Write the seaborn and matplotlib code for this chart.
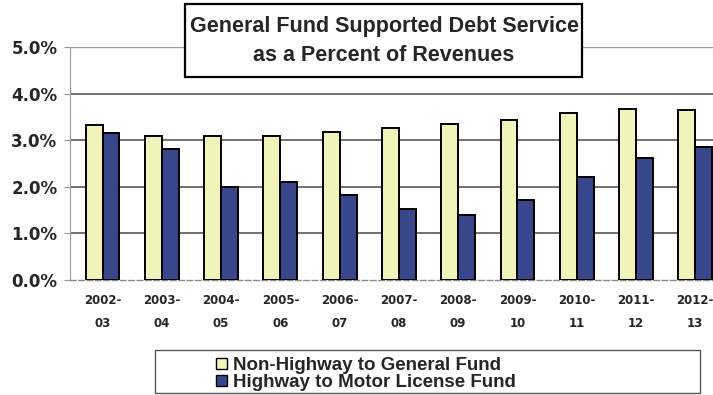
import matplotlib
matplotlib.use("Agg")
import matplotlib.pyplot as plt
from matplotlib.patches import Rectangle
import seaborn as sns
import pandas as pd

years = ["2002-\n03", "2003-\n04", "2004-\n05", "2005-\n06", "2006-\n07", "2007-\n08",
         "2008-\n09", "2009-\n10", "2010-\n11", "2011-\n12", "2012-\n13"]
non_highway = [3.32, 3.09, 3.09, 3.08, 3.18, 3.26, 3.34, 3.43, 3.59, 3.67, 3.64]
highway = [3.15, 2.82, 2.00, 2.10, 1.82, 1.52, 1.39, 1.71, 2.20, 2.62, 2.85]
series_names = ["Non-Highway to General Fund", "Highway to Motor License Fund"]
y_ticks = [0, 1, 2, 3, 4, 5]
colors = ["#F1F3B8", "#38478C"]

df = pd.DataFrame({
    "year": years * 2,
    "pct": non_highway + highway,
    "series": [series_names[0]] * len(years) + [series_names[1]] * len(years),
})

sns.set_style("white")
plt.rcParams["font.family"] = ["Liberation Sans", "DejaVu Sans"]

W, H = 713, 395
fig = plt.figure(figsize=(W / 100, H / 100), dpi=100)
ax = fig.add_axes([70 / W, 1 - 280 / H, 643 / W, 233 / H])

sns.barplot(data=df, x="year", y="pct", hue="series", palette=colors,
            saturation=1, width=0.57, gap=0, edgecolor="black", linewidth=1.4,
            legend=False, ax=ax, zorder=3)

ax.set_xlim(-0.55, 10.3)
ax.set_ylim(0, 5)
ax.set_yticks(y_ticks)
ax.set_yticklabels([f"{v:.1f}%" for v in y_ticks], fontsize=12,
                   fontweight="bold", family="DejaVu Sans")
ax.set_xticks(range(len(years)))
ax.set_xticklabels(years, fontsize=8.5, fontweight="bold", family="DejaVu Sans",
                   linespacing=2.0)
ax.set_xlabel("")
ax.set_ylabel("")

for v in y_ticks[1:-1]:
    ax.axhline(v, color="#4a4a4a", lw=1.1, zorder=1)
ax.axhline(5, color="#9a9a9a", lw=1.0, zorder=1)

for s in ["top", "right"]:
    ax.spines[s].set_visible(False)
ax.spines["left"].set_color("#9a9a9a")
ax.spines["left"].set_linewidth(0.8)
ax.spines["bottom"].set_color("#8a8a8a")
ax.spines["bottom"].set_linewidth(1.0)
ax.spines["bottom"].set_linestyle((0, (4, 2)))
ax.tick_params(axis="y", length=4, color="#9a9a9a", pad=5, left=True)
ax.tick_params(axis="x", length=0, pad=10)

# title box
fig.patches.append(Rectangle((185 / W, 1 - 77 / H), (582 - 185) / W, 73 / H,
                             transform=fig.transFigure, facecolor="white",
                             edgecolor="black", linewidth=1.6, zorder=5))
fig.text(384 / W, 1 - 41 / H,
         "General Fund Supported Debt Service\nas a Percent of Revenues",
         ha="center", va="center", fontsize=15.5, fontweight="bold",
         linespacing=1.45, zorder=6)

# legend box
fig.patches.append(Rectangle((155 / W, 1 - 393 / H), (700 - 155) / W, 43 / H,
                             transform=fig.transFigure, facecolor="white",
                             edgecolor="#555555", linewidth=1.0, zorder=5))
handles = [Rectangle((0, 0), 1, 1, facecolor=c, edgecolor="black", linewidth=1.0)
           for c in colors]
leg = fig.legend(handles, series_names, loc="upper left",
                 bbox_to_anchor=(205 / W, 1 - 346 / H), frameon=False,
                 prop={"weight": "bold", "size": 13.5}, handlelength=0.55,
                 handleheight=0.55, handletextpad=0.35, labelspacing=0.0,
                 borderpad=0.1)
leg.set_zorder(7)

fig.savefig("out.png", dpi=100)
